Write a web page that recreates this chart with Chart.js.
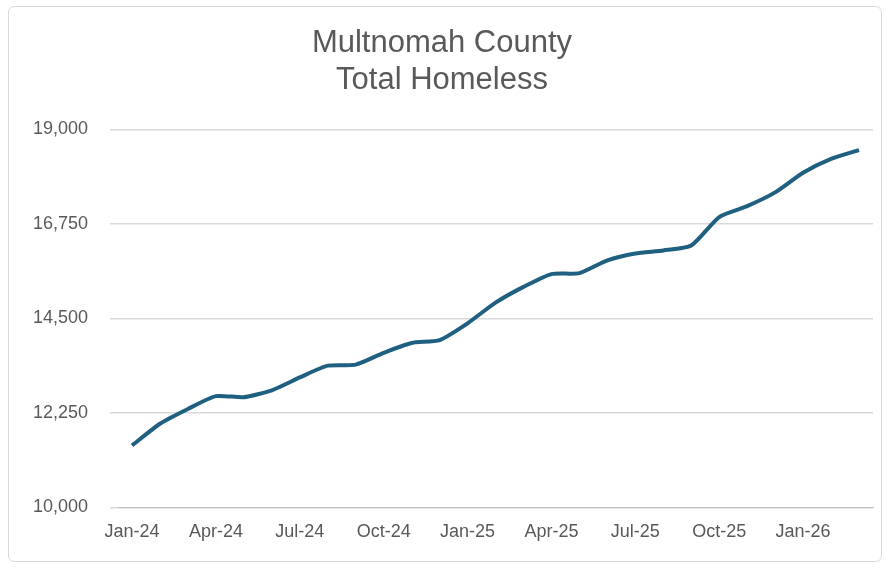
<!DOCTYPE html>
<html><head><meta charset="utf-8">
<script src="https://cdn.jsdelivr.net/npm/chart.js@4"></script>
<style>
html,body{margin:0;padding:0;background:#fff;}
#wrap{position:absolute;left:8px;top:6px;width:874px;height:556px;border:1px solid #d9d9d9;border-radius:6px;box-sizing:border-box;}
canvas{display:block;}
</style></head><body>
<div id="wrap"><canvas id="c"></canvas></div>
<script>
const months = ["Jan-24","Feb-24","Mar-24","Apr-24","May-24","Jun-24","Jul-24","Aug-24","Sep-24","Oct-24","Nov-24","Dec-24","Jan-25","Feb-25","Mar-25","Apr-25","May-25","Jun-25","Jul-25","Aug-25","Sep-25","Oct-25","Nov-25","Dec-25","Jan-26","Feb-26","Mar-26"];
const totalHomeless = [11477,11992,12344,12649,12625,12789,13094,13375,13399,13680,13914,13985,14383,14875,15250,15555,15578,15883,16047,16118,16235,16914,17172,17500,17969,18297,18508];
const titleLines = ["Multnomah County","Total Homeless"];
new Chart(document.getElementById('c'), {
  type:'line',
  data:{labels:months,datasets:[{data:totalHomeless,borderColor:'#1f5f7f',borderWidth:4,pointRadius:0,tension:0.2,fill:false}]},
  options:{
    responsive:true,maintainAspectRatio:false,animation:false,
    layout:{padding:{left:2,right:8,top:12,bottom:12}},
    plugins:{legend:{display:false},tooltip:{enabled:false},
      title:{display:true,text:titleLines,color:'#595959',font:{family:'Liberation Sans, Arial',size:31,weight:'normal'},padding:{top:6,bottom:30},lineHeight:1.25}},
    scales:{
      x:{offset:true,grid:{display:false},border:{color:'#bfbfbf'},
        ticks:{autoSkip:false,maxRotation:0,color:'#595959',font:{family:'Liberation Sans, Arial',size:18},padding:6,
          callback:function(v,i){return i%3===0?months[i]:'';}}},
      y:{min:10000,max:19000,border:{display:false},grid:{color:'#d9d9d9',lineWidth:1.5},
        ticks:{stepSize:2250,color:'#595959',font:{family:'Liberation Sans, Arial',size:18},padding:22,
          callback:v=>v.toLocaleString('en-US')}}
    }
  }
});
</script></body></html>
